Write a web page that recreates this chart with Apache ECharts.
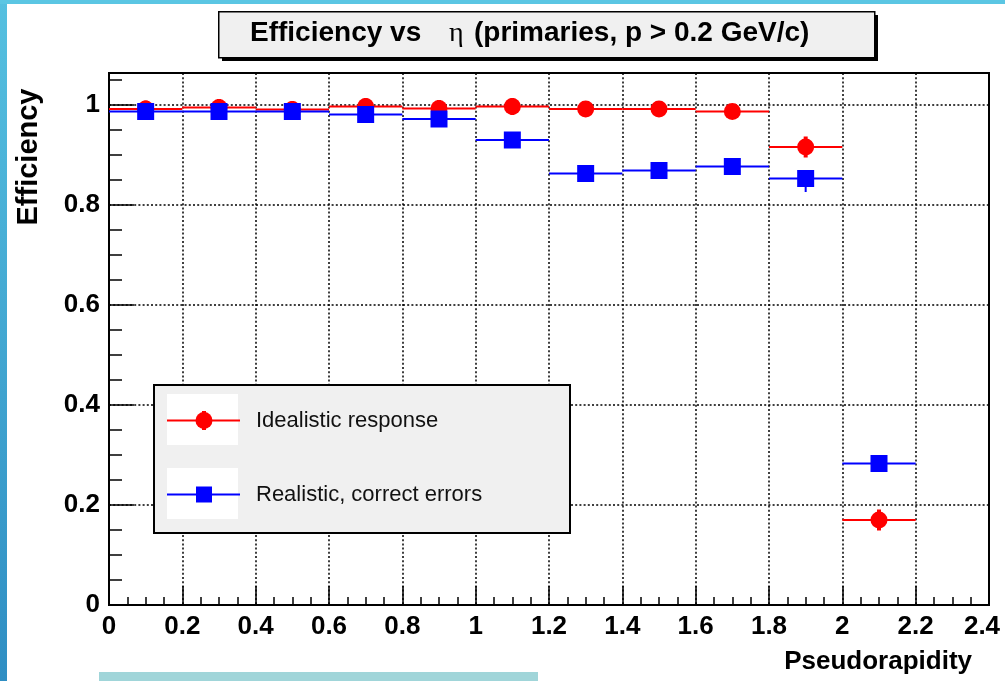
<!DOCTYPE html>
<html><head><meta charset="utf-8">
<script src="https://cdn.jsdelivr.net/npm/echarts@6/dist/echarts.min.js"></script>
<style>html,body{margin:0;padding:0;background:#fff;}#c{width:1005px;height:681px;}</style>
</head><body><div id="c"></div>
<script>
// ---- data ----
const binCenters = [0.1, 0.3, 0.5, 0.7, 0.9, 1.1, 1.3, 1.5, 1.7, 1.9, 2.1];
const binHalfWidth = 0.1;
const idealistic = [0.992, 0.995, 0.991, 0.997, 0.993, 0.997, 0.992, 0.992, 0.987, 0.916, 0.170];
const idealisticErr = [0.017, 0.017, 0.017, 0.017, 0.017, 0.017, 0.015, 0.015, 0.015, 0.021, 0.021];
const realistic = [0.987, 0.987, 0.987, 0.981, 0.972, 0.930, 0.863, 0.869, 0.877, 0.853, 0.283];
const realisticErrLow = [0, 0, 0, 0, 0, 0, 0, 0, 0, 0.027, 0];
const xTickLabels = ['0', '0.2', '0.4', '0.6', '0.8', '1', '1.2', '1.4', '1.6', '1.8', '2', '2.2', '2.4'];
const yTickLabels = ['0', '0.2', '0.4', '0.6', '0.8', '1'];
const seriesNames = ['Idealistic response', 'Realistic, correct errors'];
const titleParts = ['Efficiency vs', '\u03b7', '(primaries, p > 0.2 GeV/c)'];
const xTitle = 'Pseudorapidity';
const yTitle = 'Efficiency';

const FONT = '"Liberation Sans", Arial, Helvetica, sans-serif';
const RED = '#ff0000', BLUE = '#0000ff';

function stepRender(color, errWidth) {
  return function (params, api) {
    const x = api.value(0), y = api.value(1), elo = api.value(2), ehi = api.value(3);
    const p1 = api.coord([x - binHalfWidth, y]);
    const p2 = api.coord([x + binHalfWidth, y]);
    const children = [{
      type: 'line', shape: { x1: p1[0], y1: p1[1], x2: p2[0], y2: p2[1] },
      style: { stroke: color, lineWidth: 2 }
    }];
    if (elo > 0 || ehi > 0) {
      const a = api.coord([x, y - elo]), b = api.coord([x, y + ehi]);
      children.push({ type: 'line', shape: { x1: a[0], y1: a[1], x2: b[0], y2: b[1] },
        style: { stroke: color, lineWidth: errWidth } });
    }
    return { type: 'group', children: children };
  };
}

const chart = echarts.init(document.getElementById('c'), null, { renderer: 'canvas' });

const dotted = { color: '#000', width: 1.5, type: [2, 2.2] };

const option = {
  animation: false,
  backgroundColor: '#fff',
  grid: { left: 109, right: 16, top: 73, bottom: 76, containLabel: false, outerBoundsMode: 'none',
    show: true, borderColor: '#000', borderWidth: 2, backgroundColor: '#fff' },
  xAxis: {
    type: 'value', min: 0, max: 2.4, interval: 0.2,
    axisLine: { show: true, lineStyle: { color: '#000', width: 2 } },
    axisTick: { show: true, inside: true, length: 19, lineStyle: { color: '#000', width: 1.5 } },
    minorTick: { show: true, splitNumber: 4, length: 8, lineStyle: { color: '#000', width: 1.5 } },
    splitLine: { show: true, lineStyle: dotted },
    axisLabel: { color: '#000', fontFamily: FONT, fontWeight: 'bold', fontSize: 26, margin: 9,
      formatter: v => {
        const i = Math.round(v / 0.2);
        return i === xTickLabels.length - 1 ? '{last|' + xTickLabels[i] + '}' : xTickLabels[i];
      },
      rich: { last: { fontFamily: FONT, fontWeight: 'bold', fontSize: 26, color: '#000', padding: [0, 14, 0, 0] } } }
  },
  yAxis: [{
    type: 'value', min: 0, max: 1.064, interval: 0.2, position: 'left',
    axisLine: { show: true, lineStyle: { color: '#000', width: 2 } },
    axisTick: { show: true, inside: true, length: 25, lineStyle: { color: '#000', width: 1.5 } },
    splitLine: { show: true, lineStyle: dotted },
    axisLabel: { color: '#000', fontFamily: FONT, fontWeight: 'bold', fontSize: 26, margin: 9, showMaxLabel: false,
      formatter: v => { const i = Math.round(v / 0.2); return Math.abs(v - i * 0.2) < 1e-6 ? yTickLabels[i] : ''; } }
  }, {
    type: 'value', min: 0, max: 1.064, interval: 0.05, position: 'left',
    axisLine: { show: false },
    axisTick: { show: true, inside: true, length: 13, lineStyle: { color: '#000', width: 1.5 } },
    splitLine: { show: false },
    axisLabel: { show: false }
  }],
  series: [
    { type: 'custom', name: seriesNames[0], yAxisIndex: 0, renderItem: stepRender(RED, 4),
      data: binCenters.map((x, i) => [x, idealistic[i], idealisticErr[i], idealisticErr[i]]), z: 3 },
    { type: 'scatter', name: seriesNames[0], yAxisIndex: 0, symbol: 'circle', symbolSize: 17,
      itemStyle: { color: RED, opacity: 1 }, data: binCenters.map((x, i) => [x, idealistic[i]]), z: 4 },
    { type: 'custom', name: seriesNames[1], yAxisIndex: 0, renderItem: stepRender(BLUE, 2),
      data: binCenters.map((x, i) => [x, realistic[i], realisticErrLow[i], 0]), z: 5 },
    { type: 'scatter', name: seriesNames[1], yAxisIndex: 0, symbol: 'rect', symbolSize: 17,
      itemStyle: { color: BLUE, opacity: 1 }, data: binCenters.map((x, i) => [x, realistic[i]]), z: 6 }
  ],
  graphic: [
    // slide decorations
    { type: 'rect', left: 0, top: 0, shape: { width: 7, height: 681 },
      style: { fill: new echarts.graphic.LinearGradient(0, 0, 0, 1, [{ offset: 0, color: '#55c0e0' }, { offset: 1, color: '#2f8ec3' }]) }, z: 100 },
    { type: 'rect', left: 0, top: 0, shape: { width: 1005, height: 4 }, style: { fill: '#5bc6e3' }, z: 100 },
    { type: 'rect', left: 99, top: 672, shape: { width: 439, height: 9 }, style: { fill: '#a0d5d9' }, z: 100 },
    // title box
    { type: 'rect', left: 222, top: 15, shape: { width: 656, height: 46 }, style: { fill: '#000' }, z: 100 },
    { type: 'rect', left: 218, top: 11, shape: { width: 656, height: 46 }, style: { fill: '#f0f0f0', stroke: '#000', lineWidth: 1.5 }, z: 101 },
    { type: 'text', x: 250, y: 33, style: { text: titleParts[0], font: 'bold 28px ' + FONT, fill: '#000', verticalAlign: 'middle', align: 'left' }, z: 102 },
    { type: 'text', x: 449, y: 34, style: { text: titleParts[1], font: '28px "Liberation Serif", "DejaVu Serif", serif', fill: '#000', verticalAlign: 'middle', align: 'left' }, z: 102 },
    { type: 'text', x: 474, y: 33, style: { text: titleParts[2], font: 'bold 28px ' + FONT, fill: '#000', verticalAlign: 'middle', align: 'left' }, z: 102 },
    // axis titles
    { type: 'text', x: 29, y: 157, rotation: Math.PI / 2, style: { text: yTitle, font: 'bold 29px ' + FONT, fill: '#000', align: 'center', verticalAlign: 'middle' }, z: 102 },
    { type: 'text', x: 972, y: 662, style: { text: xTitle, font: 'bold 26px ' + FONT, fill: '#000', align: 'right', verticalAlign: 'middle' }, z: 102 },
    // legend
    { type: 'rect', left: 153, top: 384, shape: { width: 416, height: 148 }, style: { fill: '#f0f0f0', stroke: '#000', lineWidth: 2 }, z: 110 },
    { type: 'rect', left: 167, top: 394, shape: { width: 71, height: 51 }, style: { fill: '#fff' }, z: 111 },
    { type: 'rect', left: 167, top: 468, shape: { width: 71, height: 51 }, style: { fill: '#fff' }, z: 111 },
    { type: 'line', shape: { x1: 167, y1: 420.5, x2: 240, y2: 420.5 }, style: { stroke: RED, lineWidth: 2 }, z: 112 },
    { type: 'circle', shape: { cx: 204, cy: 420.5, r: 8.5 }, style: { fill: RED }, z: 113 },
    { type: 'line', shape: { x1: 204, y1: 411, x2: 204, y2: 430 }, style: { stroke: RED, lineWidth: 4 }, z: 113 },
    { type: 'line', shape: { x1: 167, y1: 494.5, x2: 240, y2: 494.5 }, style: { stroke: BLUE, lineWidth: 2 }, z: 112 },
    { type: 'rect', shape: { x: 196, y: 486.5, width: 16, height: 16 }, style: { fill: BLUE }, z: 113 },
    { type: 'text', x: 256, y: 421, style: { text: seriesNames[0], font: '22px ' + FONT, fill: '#111', verticalAlign: 'middle' }, z: 113 },
    { type: 'text', x: 256, y: 495, style: { text: seriesNames[1], font: '22px ' + FONT, fill: '#111', verticalAlign: 'middle' }, z: 113 }
  ]
};
chart.setOption(option);
</script></body></html>
